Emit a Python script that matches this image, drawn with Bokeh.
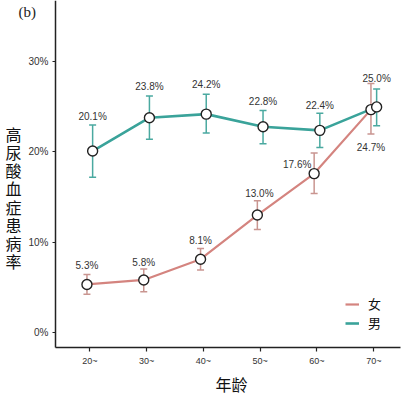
from bokeh.plotting import figure
from bokeh.models import (ColumnDataSource, Range1d, FixedTicker, Whisker, TeeHead,
                          Label, Legend, LegendItem)
from bokeh.embed import file_html
from bokeh.resources import INLINE

# ---------------- data ----------------
age_groups = ["20~", "30~", "40~", "50~", "60~", "70~"]
female_rate = [5.3, 5.8, 8.1, 13.0, 17.6, 24.7]
female_low = [4.2, 4.5, 6.9, 11.4, 15.4, 22.0]
female_high = [6.4, 7.0, 9.3, 14.6, 19.9, 27.6]
male_rate = [20.1, 23.8, 24.2, 22.8, 22.4, 25.0]
male_low = [17.2, 21.4, 22.1, 20.9, 20.5, 22.9]
male_high = [23.0, 26.2, 26.4, 24.6, 24.3, 27.0]
y_ticks = [0, 10, 20, 30]
y_tick_labels = ["0%", "10%", "20%", "30%"]
y_title = "高尿酸血症患病率"
x_title = "年龄"
panel_tag = "(b)"
legend_names = ["女", "男"]

# ---------------- style ----------------
FEMALE = "#d4847f"
FEMALE_ERR = "#c99590"
MALE = "#3aa39a"
MALE_ERR = "#4aa9a0"
DODGE = 0.05

# axis extents (data units) where the drawn axes start/end
X_AXIS_START, X_AXIS_END = -0.604, 5.47
Y_AXIS_START, Y_AXIS_END = -1.70, 36.81

# label pixel offsets relative to each point (style, not data)
female_dx = [0, 0, 0, 2, -17, 0]
female_dy = [19, 17.4, 18.7, 21.6, 9.1, -37.8]
male_dx = [0, 0, 0, 0, 0, 0]
male_dy = [34.6, 31.3, 29.7, 25.3, 24.9, 28.5]

idx = list(range(len(age_groups)))

p = figure(width=408, height=397, output_backend="svg", toolbar_location=None,
           x_range=Range1d(-1.572, 5.611), y_range=Range1d(-7.247, 36.81),
           min_border_left=0, min_border_right=0, min_border_top=0,
           min_border_bottom=0)
p.outline_line_color = None
p.xgrid.visible = False
p.ygrid.visible = False
p.background_fill_color = "white"
p.border_fill_color = "white"

# axes drawn at fixed positions inside the full-size frame
for ax in (p.xaxis[0], p.yaxis[0]):
    ax.axis_line_color = "#222222"
    ax.axis_line_width = 1.5
    ax.major_tick_line_color = "#222222"
    ax.major_tick_line_width = 1.2
    ax.minor_tick_line_color = None
    ax.major_tick_in = 0
    ax.major_label_text_color = "#333333"
    ax.major_label_text_font = "Liberation Sans"

p.yaxis.fixed_location = X_AXIS_START
p.yaxis.bounds = (Y_AXIS_START, Y_AXIS_END)
p.yaxis.ticker = FixedTicker(ticks=y_ticks)
p.yaxis.major_label_overrides = {t: l for t, l in zip(y_ticks, y_tick_labels)}
p.yaxis.major_tick_out = 3
p.yaxis.major_label_standoff = 4
p.yaxis.major_label_text_font_size = "10px"

p.xaxis.fixed_location = Y_AXIS_START
p.xaxis.bounds = (X_AXIS_START, X_AXIS_END)
p.xaxis.ticker = FixedTicker(ticks=idx)
p.xaxis.major_label_overrides = {i: g for i, g in zip(idx, age_groups)}
p.xaxis.major_tick_out = 4
p.xaxis.major_label_standoff = 4
p.xaxis.major_label_text_font_size = "9px"

fx = [i - DODGE for i in idx]
mx = [i + DODGE for i in idx]
fsrc = ColumnDataSource(dict(x=fx, y=female_rate, lo=female_low, hi=female_high,
                             t=[f"{v:.1f}%" for v in female_rate], dx=female_dx,
                             dy=[-d for d in female_dy]))
msrc = ColumnDataSource(dict(x=mx, y=male_rate, lo=male_low, hi=male_high,
                             t=[f"{v:.1f}%" for v in male_rate], dx=male_dx,
                             dy=[-d for d in male_dy]))

fl = p.line("x", "y", source=fsrc, line_color=FEMALE, line_width=2.2)
ml = p.line("x", "y", source=msrc, line_color=MALE, line_width=2.6)

for src, col in ((fsrc, FEMALE_ERR), (msrc, MALE_ERR)):
    w = Whisker(base="x", lower="lo", upper="hi", source=src, line_color=col,
                line_width=1.5,
                upper_head=TeeHead(size=7, line_color=col, line_width=1.5),
                lower_head=TeeHead(size=7, line_color=col, line_width=1.5))
    p.add_layout(w)

p.scatter("x", "y", source=fsrc, size=10, fill_color="white", line_color="#222222",
          line_width=1.4)
p.scatter("x", "y", source=msrc, size=10, fill_color="white", line_color="#222222",
          line_width=1.4)

for src in (fsrc, msrc):
    p.text("x", "y", text="t", source=src, x_offset="dx", y_offset="dy",
           text_align="center", text_baseline="middle", text_font_size="10px",
           text_color="#333333", text_font={"value": "Liberation Sans"})

# y title, stacked vertical characters, left of the axis
p.add_layout(Label(x=-1.343, y=14.95, text="\n".join(y_title), text_align="center",
                   text_baseline="middle", text_font="Noto Sans CJK SC",
                   text_font_size="16px", text_line_height=0.76, text_color="#111111"))
p.add_layout(Label(x=2.495, y=-5.80, text=x_title, text_align="center",
                   text_baseline="middle", text_font="Noto Sans CJK SC",
                   text_font_size="16px", text_color="#111111"))
p.add_layout(Label(x=-1.10, y=35.48, text=panel_tag, text_align="center",
                   text_baseline="middle", text_font="Liberation Serif",
                   text_font_size="15px", text_color="#222222"))

legend = Legend(items=[LegendItem(label=legend_names[0], renderers=[fl]),
                       LegendItem(label=legend_names[1], renderers=[ml])],
                location=(345, 65), orientation="vertical")
legend.label_text_font = "Noto Sans CJK SC"
legend.label_text_font_size = "13px"
legend.label_text_color = "#111111"
legend.glyph_width = 14
legend.glyph_height = 12
legend.label_height = 12
legend.label_standoff = 9
legend.spacing = 0
legend.padding = 0
legend.margin = 0
legend.background_fill_alpha = 0
legend.border_line_color = None
p.add_layout(legend)

open("out.html", "w").write(file_html(p, INLINE))
